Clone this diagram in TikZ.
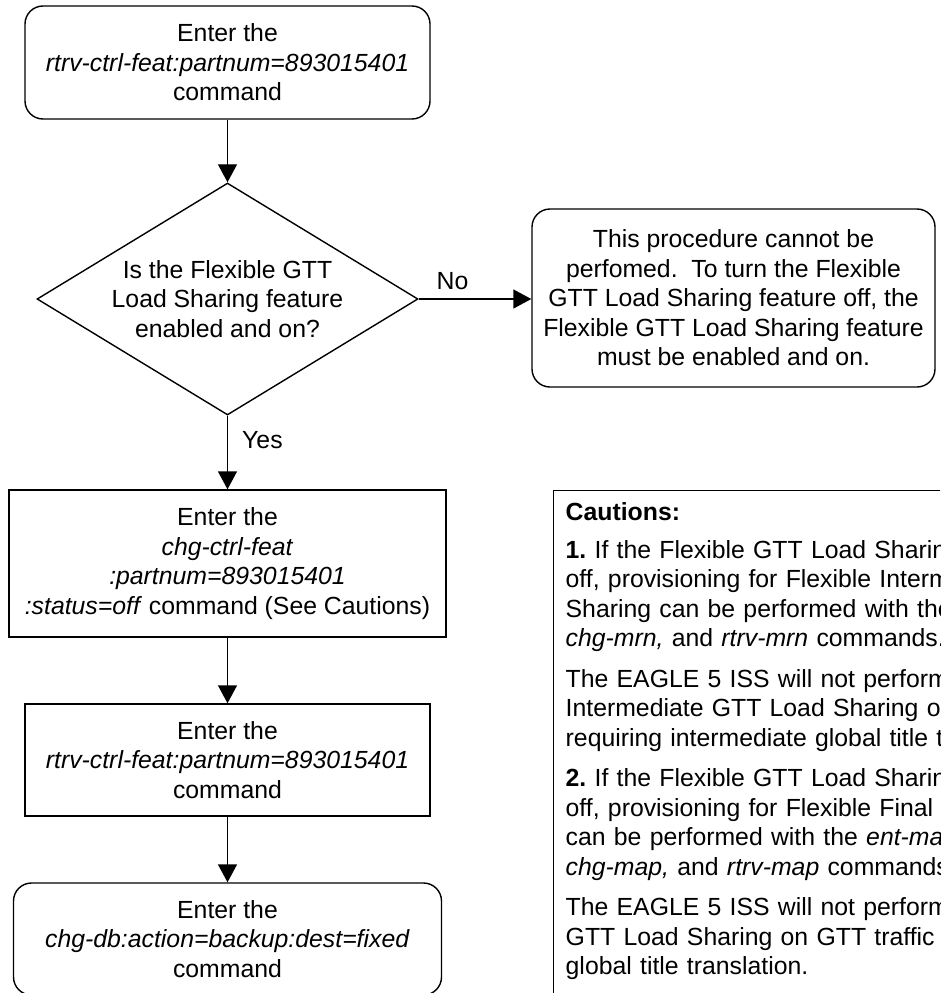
\documentclass[tikz,border=0pt]{standalone}
\usepackage{fontspec}
\setmainfont{Liberation Sans}
\usetikzlibrary{arrows.meta,shapes.geometric}
\begin{document}
\begin{tikzpicture}[x=1pt,y=-1pt,
  every node/.style={font=\fontsize{24.8}{29.5}\selectfont\frenchspacing, text=black},
  flow/.style={draw, line width=1.4pt, align=center, inner sep=0pt},
  roundbox/.style={flow, rounded corners=18pt},
  sqbox/.style={flow},
  arr/.style={line width=1.4pt, -{Triangle[length=18pt,width=19pt]}},
  lbl/.style={inner sep=0pt}
]
\useasboundingbox (0,0) rectangle (940,993);
\clip (0,0) rectangle (940,993);

\node[roundbox, minimum width=405pt, minimum height=113pt] (start) at (227.5,62.5)
  {Enter the\\\textit{rtrv-ctrl-feat:partnum=893015401}\\command};

\node[draw, diamond, line width=1.4pt, minimum width=381pt, minimum height=232pt, inner sep=0pt] (dec) at (227.5,299) {};
\node[lbl, align=center] (dectext) at (dec.center)
  {Is the Flexible GTT\\Load Sharing feature\\enabled and on?};

\node[roundbox, minimum width=403pt, minimum height=178pt] (fail) at (733.5,298)
  {This procedure cannot be\\perfomed.\ \ To turn the Flexible\\GTT Load Sharing feature off, the\\Flexible GTT Load Sharing feature\\must be enabled and on.};

\node[sqbox, minimum width=437pt, minimum height=147pt] (chg) at (227.5,563.5)
  {Enter the\\\textit{chg-ctrl-feat}\\\textit{:partnum=893015401}\\\textit{:status=off} command (See Cautions)};

\node[sqbox, minimum width=405pt, minimum height=112pt] (rtrv) at (227.5,760)
  {Enter the\\\textit{rtrv-ctrl-feat:partnum=893015401}\\command};

\node[roundbox, minimum width=428pt, minimum height=112pt] (backup) at (227.5,939)
  {Enter the\\\textit{chg-db:action=backup:dest=fixed}\\command};

\node[draw, line width=1.4pt, anchor=north west, minimum width=430pt, minimum height=560pt, inner sep=0pt] (cautbox) at (553,490) {};
\node[anchor=north west, inner sep=12.5pt, text width=620pt, align=left] (caut) at (cautbox.north west)
  {\textbf{Cautions:}\\[8pt]
   \textbf{1.} If the Flexible GTT Load Sharing feature is turned\\
   off, provisioning for Flexible Intermediate GTT Load\\
   Sharing can be performed with the \textit{ent-mrn, dlt-mrn,}\\
   \textit{chg-mrn,} and \textit{rtrv-mrn} commands.\\[11pt]
   The EAGLE 5 ISS will not perform Flexible\\
   Intermediate GTT Load Sharing on GTT traffic\\
   requiring intermediate global title translation.\\[11pt]
   \textbf{2.} If the Flexible GTT Load Sharing feature is turned\\
   off, provisioning for Flexible Final GTT Load Sharing\\
   can be performed with the \textit{ent-map, dlt-map,}\\
   \textit{chg-map,} and \textit{rtrv-map} commands.\\[11pt]
   The EAGLE 5 ISS will not perform Flexible Final\\
   GTT Load Sharing on GTT traffic requiring final\\
   global title translation.};

\draw[arr] (start) -- (dec);
\draw[arr] (dec.east) -- (fail.west |- dec.east) node[lbl, pos=0.3, above=9pt] (no) {No};
\draw[arr] (dec) -- (chg) node[lbl, pos=0.33, right=14pt] (yes) {Yes};
\draw[arr] (chg) -- (rtrv);
\draw[arr] (rtrv) -- (backup);
\end{tikzpicture}
\end{document}
